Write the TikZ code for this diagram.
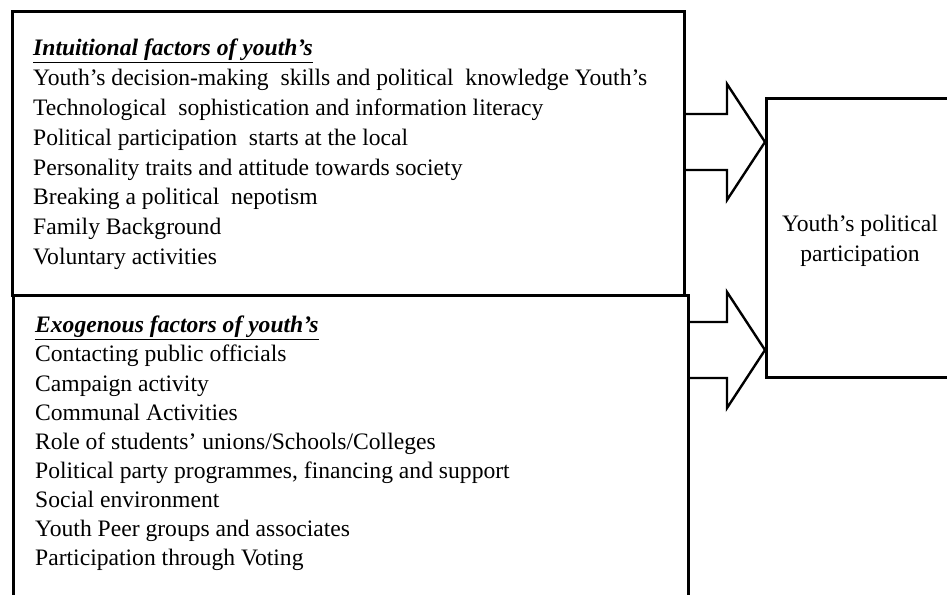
\documentclass[tikz,border=0pt]{standalone}
\usepackage{fontspec}
\setmainfont{Liberation Serif}
\usepackage{tikz}
\usetikzlibrary{calc}

% hollow block arrow from a box edge (#1) to its tip (#2)
\newcommand{\fatarrow}[2]{%
  \draw[fatline] ($(#1)+(0,-28)$) -- ($(#2)+(-38,-28)$) -- ($(#2)+(-38,-58)$) -- (#2)
    -- ($(#2)+(-38,58)$) -- ($(#2)+(-38,28)$) -- ($(#1)+(0,28)$);}

\begin{document}
\begin{tikzpicture}
[
x=1pt, y=-1pt,
box/.style={draw, line width=3pt, inner sep=0pt, anchor=north west},
fatline/.style={line width=2.4pt, fill=white},
factors/.style={align=left, inner sep=0pt, anchor=north west,
  font=\fontsize{23.6}{29.1}\selectfont},
result/.style={align=center, inner sep=0pt,
  font=\fontsize{23.6}{29.6}\selectfont}
]
\useasboundingbox (0,0) rectangle (947,594);
\clip (0,0) rectangle (947,594);

\node[box, minimum width=672pt, minimum height=284pt] (intuit) at (11,10) {};
\node[box, minimum width=675pt, minimum height=340pt] (exog) at (12,294) {};
\node[box, minimum width=240pt, minimum height=279pt] (part) at (765,97) {};

\node[factors, font=\fontsize{23.6}{29.8}\selectfont] (intuittext) at (33,39) {\underline{\textbf{\textit{Intuitional factors of youth’s}}}\\
Youth’s decision-making\ \ skills and political\ \ knowledge Youth’s\\
Technological\ \ sophistication and information literacy\\
Political participation\ \ starts at the local\\
Personality traits and attitude towards society\\
Breaking a political\ \ nepotism\\
Family Background\\
Voluntary activities};

\node[factors] (exogtext) at (35,316) {\underline{\textbf{\textit{Exogenous factors of youth’s}}}\\
Contacting public officials\\
Campaign activity\\
Communal Activities\\
Role of students' unions/Schools/Colleges\\
Political party programmes, financing and support\\
Social environment\\
Youth Peer groups and associates\\
Participation through Voting};

\node[result] (parttext) at (860,241) {Youth’s political\\participation};

\coordinate (from1) at (intuit.east |- 0,142);
\coordinate (to1) at (part.west |- 0,142);
\coordinate (from2) at (exog.east |- 0,350);
\coordinate (to2) at (part.west |- 0,350);
\fatarrow{from1}{to1}
\fatarrow{from2}{to2}
\end{tikzpicture}
\end{document}
